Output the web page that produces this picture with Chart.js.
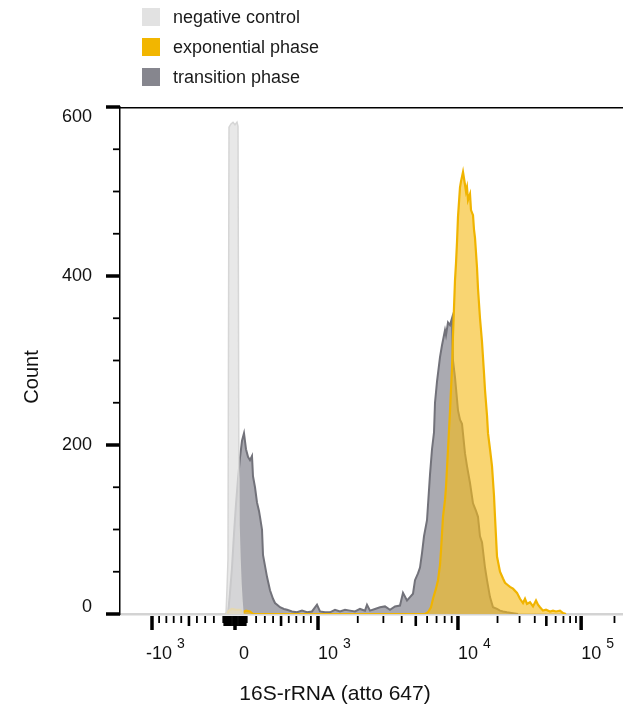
<!DOCTYPE html>
<html>
<head>
<meta charset="utf-8">
<script src="https://cdn.jsdelivr.net/npm/chart.js@4.4.1/dist/chart.umd.min.js"></script>
<style>
  html, body { margin: 0; padding: 0; background: #ffffff; }
  #wrap { position: relative; width: 623px; height: 708px; }
  #legend { position: absolute; left: 142px; top: 8px; font: 18px 'Liberation Sans', Arial, Helvetica, sans-serif; color: #1a1a1a; }
  .item { display: flex; align-items: center; height: 18px; margin-bottom: 12px; white-space: nowrap; }
  .sw { width: 18px; height: 18px; margin-right: 13px; }
</style>
</head>
<body>
<div id="wrap">
  <canvas id="c" width="623" height="708"></canvas>
  <div id="legend"></div>
</div>
<script>
// ---------- data (x = display channel on the biexponential axis, y = count) ----------
const seriesLabels = ['negative control', 'exponential phase', 'transition phase'];

const negativeControl = [
  [-9,0],[-8,30],[-7,65],[-6,576],[-4,580],[-2,582],[0,579],[2,582],[3,577],[4,105],[5,65],[6,35],[7,15],[8,0]
];

const exponentialPhase = [
  [-9,0],[-6,4],[-3,6],[1,5],[5,5],[8,2],[11,4],[15,3],[18,0],[190,0],[193,2],[196,8],[198,18],
  [201,30],[203,40],[205,58],[206,75],[208,115],[210,135],[211,150],[213,195],[215,240],[217,291],
  [218,330],[220,395],[221,415],[222,440],[223,470],[225,505],[226,512],[228,523],[230,508],[231,500],
  [232,505],[233,490],[235,497],[236,478],[238,472],[239,455],[240,445],[242,410],[243,385],[245,350],
  [247,322],[249,285],[250,265],[252,235],[253,214],[255,195],[257,175],[259,140],[260,115],[262,68],
  [265,50],[268,42],[270,37],[273,34],[275,32],[278,30],[282,25],[285,18],[288,13],[290,18],[292,12],
  [295,14],[298,9],[301,16],[303,11],[305,8],[308,4],[311,5],[315,3],[318,4],[321,3],[325,4],[328,1],[331,0]
];

const transitionPhase = [
  [-7,0],[-5,25],[-3,55],[-1,95],[1,130],[3,160],[5,185],[7,205],[9,214],[11,195],[13,186],[15,182],
  [17,187],[18,163],[20,150],[22,132],[24,122],[25,115],[27,100],[28,70],[30,57],[32,44],[35,28],
  [38,18],[40,13],[43,10],[45,8],[49,6],[52,5],[57,3],[62,2],[67,4],[72,2],[77,3],[82,11],[85,3],
  [90,2],[95,2],[100,5],[105,3],[110,5],[115,4],[120,3],[125,6],[130,4],[132,11],[135,4],[140,6],
  [145,8],[150,9],[155,5],[160,9],[165,10],[168,25],[172,16],[175,20],[178,24],[180,40],[183,48],
  [185,55],[187,72],[189,92],[192,111],[195,165],[197,195],[199,215],[200,250],[202,275],[205,304],
  [207,318],[210,336],[211,330],[213,345],[215,342],[217,350],[218,300],[220,280],[223,241],[225,230],
  [227,225],[230,190],[232,175],[235,155],[238,131],[241,122],[243,115],[245,92],[247,85],[250,55],
  [252,40],[255,20],[258,8],[262,6],[265,4],[268,3],[272,2],[278,1],[283,0]
];

const yTickValues = [0, 200, 400, 600];
const yTickLabels = ['0', '200', '400', '600'];
const xTickValues = [-1000, 0, 1000, 10000, 100000];
const xTickBase   = ['-10', '0', '10', '10', '10'];
const xTickExp    = ['3', '', '3', '4', '5'];
const xAxisTitle = '16S-rRNA (atto 647)';
const yAxisTitle = 'Count';

// ---------- display transform of the biexponential axis (intensity -> channel) ----------
function biex(v) {
  const a = Math.abs(v), s = Math.sign(v);
  if (a <= 1000) return s * 83 * Math.pow(a / 1000, 0.85);
  return s * 115 * Math.pow(Math.asinh(a / 1500), 0.694);
}

const FONT = "'Liberation Sans', Arial, Helvetica, sans-serif";
Chart.defaults.font.family = FONT;

const toXY = arr => arr.map(p => ({ x: p[0], y: p[1] }));

const colors = {
  neg:  { line: '#d6d6d6', fill: 'rgba(226,226,226,0.78)', swatch: '#e2e2e2' },
  exp:  { line: '#f0b400', fill: 'rgba(246,188,28,0.62)', swatch: '#f2b600' },
  tran: { line: '#72727a', fill: '#aaaab1', swatch: '#86868e' }
};

// x tick marks for the biexponential axis
const xMajor = [-1000, 0, 1000, 10000, 100000];
const xMedium = [-500, 500, 5000, 50000];
const xMinor = [];
for (let k = 1; k <= 9; k++) {
  if (k !== 5) { xMinor.push(k * 100, -k * 100); }
  if (k >= 2 && k !== 5) { xMinor.push(k * 1000, k * 10000); }
}
xMinor.push(200000);
const xTiny = [];
for (let k = 1; k <= 9; k++) { xTiny.push(k * 10, -k * 10); }

const axisDecor = {
  id: 'axisDecor',
  afterDraw(chart) {
    const { ctx, chartArea: a, scales: { x, y } } = chart;
    ctx.save();
    ctx.strokeStyle = '#000';
    ctx.lineCap = 'butt';
    // top frame line
    ctx.lineWidth = 1.5;
    ctx.beginPath(); ctx.moveTo(a.left, a.top + 0.75); ctx.lineTo(a.right, a.top + 0.75); ctx.stroke();
    // y tick marks
    for (let v = 0; v <= 600; v += 50) {
      const py = y.getPixelForValue(v);
      const major = yTickValues.includes(v);
      ctx.lineWidth = major ? 3.5 : 1.8;
      ctx.beginPath(); ctx.moveTo(a.left - (major ? 14 : 7), py); ctx.lineTo(a.left, py); ctx.stroke();
    }
    // y tick labels (kept inside the plot's vertical span, as in the original)
    ctx.fillStyle = '#111';
    ctx.font = '18px ' + FONT;
    ctx.textAlign = 'right';
    ctx.textBaseline = 'middle';
    yTickValues.forEach((v, i) => {
      const py = Math.min(Math.max(y.getPixelForValue(v), a.top + 10), a.bottom - 7);
      ctx.fillText(yTickLabels[i], a.left - 28, py);
    });
    // x tick marks
    const drawX = (vals, len, w) => {
      ctx.lineWidth = w;
      vals.forEach(v => {
        const px = x.getPixelForValue(biex(v));
        if (px < a.left - 1 || px > a.right + 1) return;
        ctx.beginPath(); ctx.moveTo(px, a.bottom + 2); ctx.lineTo(px, a.bottom + 2 + len); ctx.stroke();
      });
    };
    drawX(xMinor, 7, 1.8);
    drawX(xTiny, 10, 1.8);
    drawX(xMedium, 10, 2.6);
    drawX(xMajor, 14, 3.5);
    // x tick labels with raised exponents
    ctx.textBaseline = 'alphabetic';
    ctx.textAlign = 'left';
    xTickValues.forEach((v, i) => {
      const px = x.getPixelForValue(biex(v));
      const base = xTickBase[i];
      ctx.font = '18px ' + FONT;
      let sx;
      if (base.startsWith('-')) sx = px - ctx.measureText('-').width;
      else if (xTickExp[i] === '') sx = px + 4;
      else sx = px;
      ctx.fillText(base, sx, 659);
      if (xTickExp[i]) {
        const w = ctx.measureText(base).width;
        ctx.font = '14px ' + FONT;
        ctx.fillText(xTickExp[i], sx + w + 5, 648);
      }
    });
    // axis titles
    ctx.font = '21px ' + FONT;
    ctx.textAlign = 'center';
    ctx.fillText(xAxisTitle, a.left + 215, 700);
    ctx.translate(32, a.top + 270);
    ctx.rotate(-Math.PI / 2);
    ctx.font = '20px ' + FONT;
    ctx.textBaseline = 'middle';
    ctx.fillText(yAxisTitle, 0, 0);
    ctx.restore();
  }
};

const chart = new Chart(document.getElementById('c'), {
  type: 'line',
  data: {
    datasets: [
      { label: seriesLabels[0], data: toXY(negativeControl), borderColor: colors.neg.line, backgroundColor: colors.neg.fill,
        fill: 'origin', borderWidth: 1.5, pointRadius: 0, tension: 0, clip: 0 },
      { label: seriesLabels[1], data: toXY(exponentialPhase), borderColor: colors.exp.line, backgroundColor: colors.exp.fill,
        fill: 'origin', borderWidth: 2.2, pointRadius: 0, tension: 0, clip: 0 },
      { label: seriesLabels[2], data: toXY(transitionPhase), borderColor: colors.tran.line, backgroundColor: colors.tran.fill,
        fill: 'origin', borderWidth: 2, pointRadius: 0, tension: 0, clip: 0 }
    ]
  },
  options: {
    responsive: false,
    animation: false,
    devicePixelRatio: 1,
    layout: { padding: { top: 107, left: 0, right: 0, bottom: 0 } },
    plugins: { legend: { display: false }, tooltip: { enabled: false } },
    scales: {
      x: {
        type: 'linear', min: -115, max: 388, z: 1,
        grid: { display: false, drawTicks: false },
        border: { display: true, color: '#d3d3d3', width: 2.5 },
        ticks: { display: false },
        afterFit(s) { s.height = 94; }
      },
      y: {
        type: 'linear', min: 0, max: 600,
        grid: { display: false, drawTicks: false },
        border: { display: true, color: '#000', width: 1.5 },
        ticks: { display: false, stepSize: 200 },
        afterFit(s) { s.width = 120; }
      }
    }
  },
  plugins: [axisDecor]
});

// HTML legend built from the datasets
const legendEl = document.getElementById('legend');
const swatches = [colors.neg.swatch, colors.exp.swatch, colors.tran.swatch];
chart.data.datasets.forEach((ds, i) => {
  const item = document.createElement('div');
  item.className = 'item';
  const sw = document.createElement('span');
  sw.className = 'sw';
  sw.style.background = swatches[i];
  const tx = document.createElement('span');
  tx.textContent = ds.label;
  item.appendChild(sw); item.appendChild(tx);
  legendEl.appendChild(item);
});
</script>
</body>
</html>
